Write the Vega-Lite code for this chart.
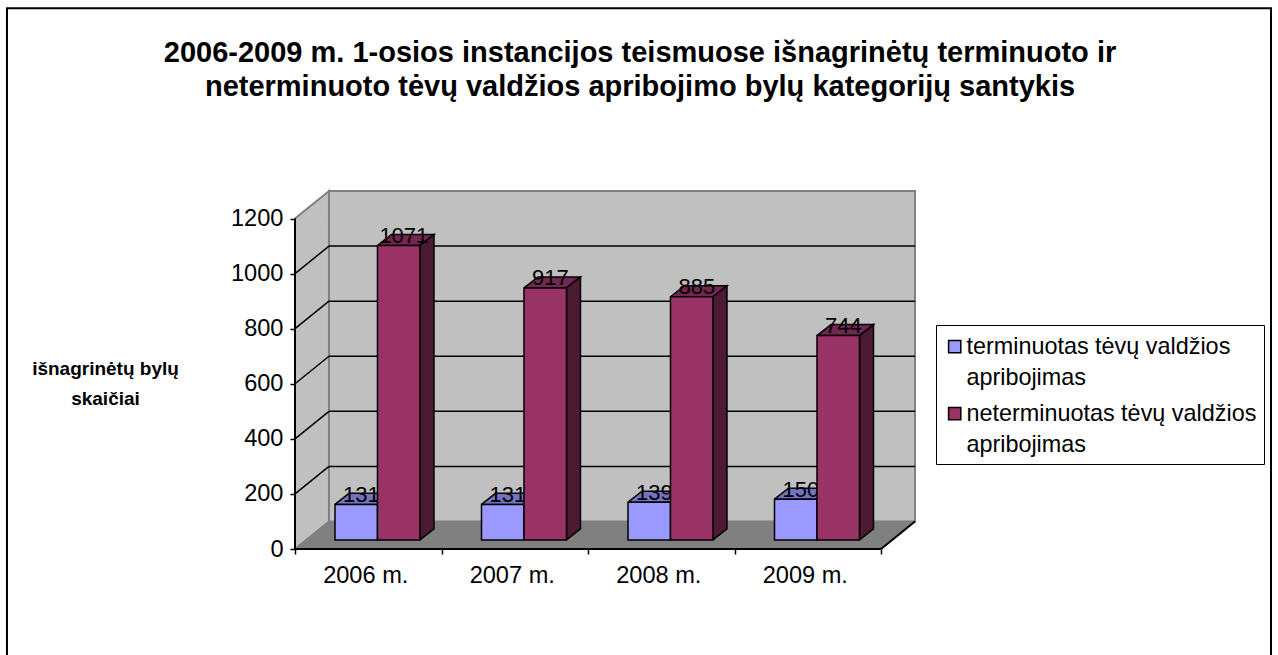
{
"$schema":"https://vega.github.io/schema/vega-lite/v6.json",
"width":620,"height":358,
"autosize":{"type":"none"},
"padding":{"left":295,"top":191,"right":363,"bottom":106},
"background":"white",
"title":{"text":["2006-2009 m. 1-osios instancijos teismuose išnagrinėtų terminuoto ir","neterminuoto tėvų valdžios apribojimo bylų kategorijų santykis"],"font":"Liberation Sans","fontSize":29,"fontWeight":"bold","color":"black","anchor":"middle","frame":"group","dx":35,"lineHeight":34,"offset":-124,"baseline":"bottom"},
"config":{"view":{"stroke":null},"text":{"font":"Liberation Sans"}},
"datasets":{
"bars":[
{"year":"2006 m.","series":"terminuotas tėvų valdžios apribojimas","value":131},
{"year":"2007 m.","series":"terminuotas tėvų valdžios apribojimas","value":131},
{"year":"2008 m.","series":"terminuotas tėvų valdžios apribojimas","value":139},
{"year":"2009 m.","series":"terminuotas tėvų valdžios apribojimas","value":150},
{"year":"2006 m.","series":"neterminuotas tėvų valdžios apribojimas","value":1071},
{"year":"2007 m.","series":"neterminuotas tėvų valdžios apribojimas","value":917},
{"year":"2008 m.","series":"neterminuotas tėvų valdžios apribojimas","value":885},
{"year":"2009 m.","series":"neterminuotas tėvų valdžios apribojimas","value":744}
],
"surfaces":[
{"s":"left","k":0,"px":0,"py":0},{"s":"left","k":1,"px":0,"py":1200},{"s":"left","k":2,"px":0.232,"py":1300},{"s":"left","k":3,"px":0.232,"py":100},{"s":"left","k":4,"px":0,"py":0},
{"s":"back","k":0,"px":0.232,"py":100},{"s":"back","k":1,"px":0.232,"py":1300},{"s":"back","k":2,"px":4.232,"py":1300},{"s":"back","k":3,"px":4.232,"py":100},{"s":"back","k":4,"px":0.232,"py":100}
],
"floor":[
{"s":"floor","k":0,"px":0,"py":0},{"s":"floor","k":1,"px":0.232,"py":100},{"s":"floor","k":2,"px":4.232,"py":100},{"s":"floor","k":3,"px":4,"py":0},{"s":"floor","k":4,"px":0,"py":0}
],
"edges":[{"a":0,"b":0,"c":0,"d":1200},{"a":0,"b":0,"c":4,"d":0},{"a":4,"b":0,"c":4.232,"d":100}],
"grid":[{"v":200},{"v":400},{"v":600},{"v":800},{"v":1000}]
},
"data":{"name":"bars"},
"transform":[
{"calculate":"toNumber(slice(datum.year,0,4))-2006","as":"cat"},
{"calculate":"datum.cat+(datum.series[0]=='t'?0.273:0.563)","as":"x0"},
{"calculate":"datum.x0+0.29","as":"x1"},
{"calculate":"datum.value+31","as":"top"},
{"calculate":"33","as":"base"},
{"calculate":"datum.x0+0.18","as":"lx"},
{"calculate":"datum.value+66","as":"ly"}
],
"encoding":{
 "x":{"type":"quantitative","scale":{"domain":[0,4.232]},
   "axis":{"values":[0,0.5,1,1.5,2,2.5,3,3.5,4],"title":null,"grid":false,"domain":false,"tickColor":"black","tickSize":5,"tickWidth":1.5,
    "tickOpacity":{"condition":{"test":"datum.value%1==0","value":1},"value":0},
    "labelExpr":"datum.value%1==0?'':(2006+floor(datum.value))+' m.'","labelFont":"Liberation Sans","labelFontSize":23.6,"labelColor":"black","labelPadding":9,"labelOffset":-3,"labelOverlap":false,"labelFlush":false}},
 "y":{"type":"quantitative","scale":{"domain":[0,1300]},
   "axis":{"values":[0,200,400,600,800,1000,1200],"grid":false,"domain":false,"tickColor":"black","tickSize":5,"tickWidth":1.5,
    "labelFont":"Liberation Sans","labelFontSize":23.6,"labelColor":"black","labelPadding":7,"labelOverlap":false,"labelFlush":false,"format":"d",
    "title":["išnagrinėtų bylų","skaičiai"],"titleFont":"Liberation Sans","titleFontSize":19,"titleFontWeight":"bold","titleColor":"black","titleAngle":0,"titleAlign":"center","titleBaseline":"middle","titleX":-190,"titleY":177,"titleLineHeight":30}}
},
"layer":[
{"data":{"values":[{"a":-1.966,"b":1964,"c":6.662,"d":-500}]},
 "mark":{"type":"rect","fill":null,"stroke":"black","strokeWidth":2,"clip":false},
 "encoding":{"x":{"field":"a"},"x2":{"field":"c"},"y":{"field":"b"},"y2":{"field":"d"}}},
{"data":{"name":"surfaces"},
 "mark":{"type":"line","fill":"#C0C0C0","stroke":"#808080","strokeWidth":2,"clip":false},
 "encoding":{"detail":{"field":"s"},"order":{"field":"k"},"x":{"field":"px"},"y":{"field":"py"}}},
{"data":{"name":"floor"},
 "mark":{"type":"line","fill":"#808080","stroke":"#808080","strokeWidth":1,"clip":false},
 "encoding":{"detail":{"field":"s"},"order":{"field":"k"},"x":{"field":"px"},"y":{"field":"py"}}},
{"data":{"name":"grid"},
 "transform":[{"calculate":"datum.v+100","as":"w"},{"calculate":"0","as":"x0"},{"calculate":"0.232","as":"x1"}],
 "mark":{"type":"rule","stroke":"black","strokeWidth":1.5},
 "encoding":{"x":{"field":"x0"},"x2":{"field":"x1"},"y":{"field":"v"},"y2":{"field":"w"}}},
{"data":{"name":"grid"},
 "transform":[{"calculate":"datum.v+100","as":"w"},{"calculate":"0.232","as":"x1"},{"calculate":"4.232","as":"x2"}],
 "mark":{"type":"rule","stroke":"black","strokeWidth":1.5},
 "encoding":{"x":{"field":"x1"},"x2":{"field":"x2"},"y":{"field":"w"}}},
{"data":{"name":"edges"},
 "mark":{"type":"rule","stroke":"black","strokeWidth":2},
 "encoding":{"x":{"field":"a"},"x2":{"field":"c"},"y":{"field":"b"},"y2":{"field":"d"}}},
{"transform":[{"filter":"datum.series[0]=='t'"},
  {"calculate":"[datum.x0,datum.x1,datum.x1+0.0956,datum.x0+0.0956,datum.x0]","as":"px"},
  {"calculate":"[datum.top,datum.top,datum.top+40,datum.top+40,datum.top]","as":"py"},
  {"calculate":"[0,1,2,3,4]","as":"k"},{"flatten":["px","py","k"]}],
 "mark":{"type":"line","fill":"#7373BF","stroke":"black","strokeWidth":1.5,"clip":false},
 "encoding":{"detail":{"field":"year"},"order":{"field":"k"},"x":{"field":"px"},"y":{"field":"py"}}},
{"transform":[{"filter":"datum.series[0]=='t'"}],
 "mark":{"type":"rect","stroke":"black","strokeWidth":1.5},
 "encoding":{
  "x":{"field":"x0"},"x2":{"field":"x1"},"y":{"field":"top"},"y2":{"field":"base"},
  "fill":{"field":"series","type":"nominal","scale":{"domain":["terminuotas tėvų valdžios apribojimas","neterminuotas tėvų valdžios apribojimas"],"range":["#9999FF","#993366"]},
   "legend":{"title":" ","titleFontSize":1,"titlePadding":2,"orient":"none","legendX":641,"legendY":134,"fillColor":"white","strokeColor":"black","padding":7,"symbolType":"square","symbolSize":150,"symbolStrokeColor":"black","symbolStrokeWidth":1.5,"labelFont":"Liberation Sans","labelFontSize":23.4,"labelColor":"black","labelLimit":400,"rowPadding":11,"labelOffset":0,
   "labelExpr":"[slice(datum.label,0,indexof(datum.label,' apribojimas')),'apribojimas']",
   "encoding":{"labels":{"lineHeight":{"value":31}}}}}}},
{"transform":[{"filter":"datum.series[0]=='t'"}],
 "mark":{"type":"text","fontSize":22,"color":"black","font":"Liberation Sans","baseline":"middle"},
 "encoding":{"text":{"field":"value","type":"quantitative"},"x":{"field":"lx"},"y":{"field":"ly"}}},
{"transform":[{"filter":"datum.series[0]=='n'"},
  {"calculate":"[datum.x0,datum.x1,datum.x1+0.0956,datum.x0+0.0956,datum.x0]","as":"px"},
  {"calculate":"[datum.top,datum.top,datum.top+40,datum.top+40,datum.top]","as":"py"},
  {"calculate":"[0,1,2,3,4]","as":"k"},{"flatten":["px","py","k"]}],
 "mark":{"type":"line","fill":"#732650","stroke":"black","strokeWidth":1.5,"clip":false},
 "encoding":{"detail":{"field":"year"},"order":{"field":"k"},"x":{"field":"px"},"y":{"field":"py"}}},
{"transform":[{"filter":"datum.series[0]=='n'"},
  {"calculate":"[datum.x1,datum.x1+0.0956,datum.x1+0.0956,datum.x1,datum.x1]","as":"px"},
  {"calculate":"[datum.base,datum.base+40,datum.top+40,datum.top,datum.base]","as":"py"},
  {"calculate":"[0,1,2,3,4]","as":"k"},{"flatten":["px","py","k"]}],
 "mark":{"type":"line","fill":"#4D1A33","stroke":"black","strokeWidth":1.5,"clip":false},
 "encoding":{"detail":{"field":"year"},"order":{"field":"k"},"x":{"field":"px"},"y":{"field":"py"}}},
{"transform":[{"filter":"datum.series[0]=='n'"}],
 "mark":{"type":"rect","stroke":"black","strokeWidth":1.5},
 "encoding":{
  "x":{"field":"x0"},"x2":{"field":"x1"},"y":{"field":"top"},"y2":{"field":"base"},
  "fill":{"field":"series","type":"nominal","scale":{"domain":["terminuotas tėvų valdžios apribojimas","neterminuotas tėvų valdžios apribojimas"],"range":["#9999FF","#993366"]}}}},
{"transform":[{"filter":"datum.series[0]=='n'"}],
 "mark":{"type":"text","fontSize":22,"color":"black","font":"Liberation Sans","baseline":"middle"},
 "encoding":{"text":{"field":"value","type":"quantitative"},"x":{"field":"lx"},"y":{"field":"ly"}}}
]
}
